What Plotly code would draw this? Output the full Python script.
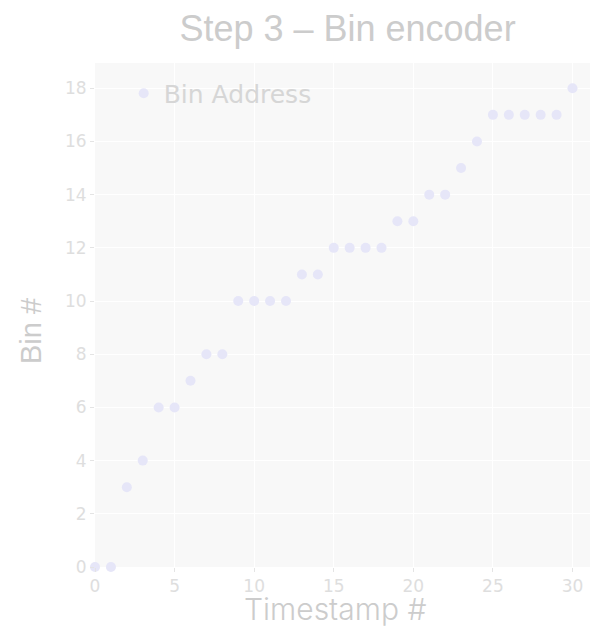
import plotly.graph_objects as go

# Timestamp index and the bin each sample was encoded into
timestamps = list(range(31))
bin_address = [0, 0, 3, 4, 6, 6, 7, 8, 8, 10, 10, 10, 10, 11, 11, 12, 12, 12, 12,
               13, 13, 14, 14, 15, 16, 17, 17, 17, 17, 17, 18]

x_ticks = [0, 5, 10, 15, 20, 25, 30]
y_ticks = [0, 2, 4, 6, 8, 10, 12, 14, 16, 18]

fig = go.Figure()
fig.add_trace(go.Scatter(
    x=timestamps, y=bin_address, mode="markers", name="Bin Address",
    marker=dict(color="#e6e6f8", size=10),
    cliponaxis=False,
))

tick_font = dict(family="DejaVu Sans", size=17, color="#dedede")
fig.update_layout(
    width=591, height=629,
    margin=dict(l=95, r=1, t=63, b=62),
    paper_bgcolor="white",
    plot_bgcolor="#f8f8f8",
    title=dict(text="Step 3 – Bin encoder", x=0.588, xanchor="center", y=0.955, yanchor="middle",
               font=dict(family="Liberation Sans", size=36, color="#cccccc")),
    showlegend=True,
    legend=dict(x=0.058, y=0.985, xanchor="left", yanchor="top", bgcolor="rgba(0,0,0,0)",
                font=dict(family="DejaVu Sans", size=25, color="#d6d6d6")),
    xaxis=dict(range=[0, 31.1], tickvals=x_ticks, showgrid=True, gridcolor="white", gridwidth=1,
               zeroline=False, ticks="outside", ticklen=4, tickcolor="#e4e4e4",
               tickfont=tick_font),
    yaxis=dict(range=[0, 18.95], tickvals=y_ticks, showgrid=True, gridcolor="white", gridwidth=1,
               zeroline=False, ticks="outside", ticklen=4, tickcolor="#e4e4e4",
               tickfont=tick_font),
    annotations=[
        dict(text="Timestamp #", xref="paper", yref="paper", x=(335 - 95) / 495, y=-0.084,
             xanchor="center", yanchor="middle", showarrow=False,
             font=dict(family="Inter", size=30, weight=300, color="#cccccc")),
        dict(text="Bin #", xref="paper", yref="paper", x=(31 - 95) / 495, y=(567 - 331) / 504,
             xanchor="center", yanchor="middle", showarrow=False, textangle=-90,
             font=dict(family="Liberation Sans", size=29, color="#cccccc")),
    ],
)

fig.write_html("out.html")
